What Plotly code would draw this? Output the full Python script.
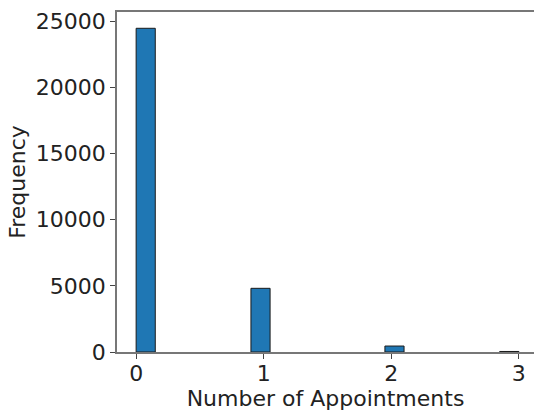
import numpy as np
import plotly.graph_objects as go

# Data
appointments = [0, 1, 2, 3]
counts = [24450, 4810, 450, 40]
n_bins = 20
x_min, x_max = 0, 3
y_ticks = [0, 5000, 10000, 15000, 20000, 25000]
x_ticks = [0, 1, 2, 3]

edges = np.linspace(x_min, x_max, n_bins + 1)
bw = edges[1] - edges[0]
idx = np.minimum(np.searchsorted(edges, appointments, side="right") - 1, n_bins - 1)
lefts = edges[idx]
centers = lefts + bw / 2

fig = go.Figure(
    go.Bar(
        x=centers,
        y=counts,
        width=[bw] * len(counts),
        marker=dict(color="#1f77b4", line=dict(color="#1a1a1a", width=1)),
    )
)

font = "DejaVu Sans, sans-serif"
fs = 22
fig.update_layout(
    width=534,
    height=412,
    margin=dict(l=117, r=0, t=12, b=60),
    paper_bgcolor="white",
    plot_bgcolor="white",
    showlegend=False,
    font=dict(family=font, size=fs, color="#222"),
)
fig.update_xaxes(
    range=[-0.15, -0.15 + 3.3 * (534 - 117) / (538 - 117)],
    tickvals=x_ticks,
    ticktext=[str(v) for v in x_ticks],
    ticks="outside",
    ticklen=5,
    tickwidth=1,
    tickcolor="#444",
    showline=True,
    linecolor="#777",
    linewidth=1.5,
    mirror=True,
    showgrid=False,
    zeroline=False,
    ticklabelstandoff=-4,
    title=dict(text="Number of Appointments", font=dict(size=fs, family=font), standoff=2),
    tickfont=dict(size=fs, family=font),
)
fig.update_yaxes(
    range=[0, 25680],
    tickvals=y_ticks,
    ticktext=[str(v) for v in y_ticks],
    ticks="outside",
    ticklen=5,
    tickwidth=1,
    tickcolor="#444",
    showline=True,
    linecolor="#777",
    linewidth=1.5,
    showgrid=False,
    zeroline=False,
    title=dict(text="Frequency", font=dict(size=fs, family=font), standoff=4),
    tickfont=dict(size=fs, family=font),
)

fig.write_html("out.html")
